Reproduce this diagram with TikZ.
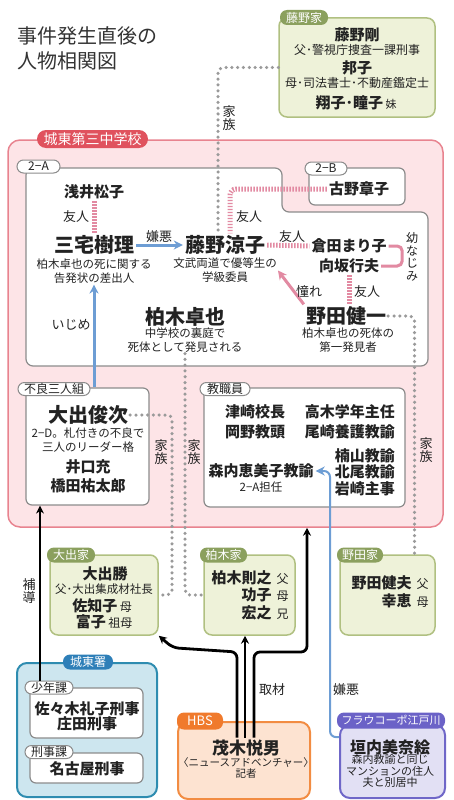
\documentclass[tikz,border=0pt]{standalone}
\usepackage{fontspec}
\setmainfont{Noto Sans CJK JP}
\usetikzlibrary{arrows.meta}
\definecolor{ink}{HTML}{222222}
\definecolor{titlegray}{HTML}{333333}
\definecolor{schoolfill}{HTML}{FDE4E7}
\definecolor{schoolline}{HTML}{E8838F}
\definecolor{schoolred}{HTML}{E0525E}
\definecolor{grline}{HTML}{8C8C8C}
\definecolor{famfill}{HTML}{EEF2D9}
\definecolor{famline}{HTML}{B0C081}
\definecolor{famgreen}{HTML}{8BA05E}
\definecolor{joshofill}{HTML}{CDE6EF}
\definecolor{josholine}{HTML}{2E8CB0}
\definecolor{joshoblue}{HTML}{2E7FB8}
\definecolor{hbsfill}{HTML}{FDE3D1}
\definecolor{hbsline}{HTML}{F28C42}
\definecolor{hbsorange}{HTML}{F07A2C}
\definecolor{fraufill}{HTML}{E2E0F4}
\definecolor{frauline}{HTML}{6F67C8}
\definecolor{frauviolet}{HTML}{6B62C7}
\definecolor{pinkline}{HTML}{E28AA2}
\definecolor{blueline}{HTML}{6D9DD4}
\definecolor{dotgray}{HTML}{9A9A9A}

\begin{document}
\begin{tikzpicture}[x=1pt,y=-1pt,text=ink,
    big/.style={font=\fontsize{20}{22}\selectfont\bfseries,inner sep=2pt},
    mid/.style={font=\fontsize{15}{16}\selectfont\bfseries,inner sep=2pt},
    note/.style={font=\fontsize{11.5}{14}\selectfont,align=center,inner sep=1pt},
    rel/.style={font=\fontsize{13}{13}\selectfont,align=center,inner sep=0pt},
    grbox/.style={draw=grline,fill=white,line width=1.2pt,rounded corners=6pt,inner sep=0pt},
    grtab/.style={draw=grline,fill=white,line width=1pt,rounded corners=6.5pt,inner xsep=3pt,inner ysep=0.5pt,minimum height=13pt,font=\fontsize{12}{12}\selectfont},
    fambox/.style={draw=famline,fill=famfill,line width=1.5pt,rounded corners=8pt,inner sep=0pt},
    coltab/.style={fill=#1,text=white,rounded corners=7pt,inner xsep=3pt,inner ysep=0.5pt,font=\fontsize{12}{12}\selectfont},
    famtab/.style={coltab=famgreen,minimum height=15pt},
    friend/.style={draw=pinkline,line width=5pt,dash pattern=on 1.4pt off 1.6pt,rounded corners=6pt},
    kin/.style={draw=dotgray,line width=3.5pt,line cap=round,dash pattern=on 0pt off 5.8pt,rounded corners=5pt},
    hate/.style={draw=blueline,line width=3pt,-{Stealth[length=9pt,width=9pt]}},
    news/.style={draw=black,line width=2.8pt,rounded corners=6pt,-{Stealth[length=8pt,width=8pt]}}]
\useasboundingbox (0,0) rectangle (453,800);

\node[font=\fontsize{20}{25}\selectfont,align=left,anchor=west,text=titlegray,inner sep=0pt] (title) at (17,48) {事件発生直後の\\人物相関図};

\node[fambox,minimum width=156pt,minimum height=99pt] (fujinoke) at (357,67.5) {};
\node[famtab,minimum width=48pt] (fujinoketab) at (304,17.5) {藤野家};
\node[mid] (tsuyoshi) at (357,35) {藤野剛};
\node[note,font=\fontsize{12}{14}\selectfont] (tsuyoshinote) at (357,50) {父･警視庁捜査一課刑事};
\node[mid] (kuniko) at (357,68) {邦子};
\node[note,font=\fontsize{12}{14}\selectfont] (kunikonote) at (357,83) {母･司法書士･不動産鑑定士};
\node[mid] (sisters) at (356,103) {翔子･瞳子\,{\mdseries\fontsize{11}{11}\selectfont 妹}};

\node[draw=schoolline,fill=schoolfill,line width=1.5pt,rounded corners=12pt,inner sep=0pt,minimum width=435pt,minimum height=387pt] (school) at (225.5,333.5) {};
\node[coltab=schoolred,minimum width=111pt,minimum height=18pt,rounded corners=9pt,font=\fontsize{14}{14}\selectfont] (schooltab) at (92.5,139) {城東第三中学校};
\draw[draw=grline,line width=1.2pt,fill=white,rounded corners=7pt] (120,168) -- (282,168) -- (282,212) -- (428,212) -- (428,366) -- (26,366) -- (26,168) -- cycle;
\node[grtab,minimum width=43pt] (classAtab) at (38.5,166.5) {2−A};
\node[grbox,minimum width=96pt,minimum height=37pt] (classB) at (357,186.5) {};
\node[grtab,minimum width=42pt] (classBtab) at (326,168.5) {2−B};
\node[grbox,minimum width=123pt,minimum height=117pt] (furyo) at (87.5,446.5) {};
\node[grtab,minimum width=72pt] (furyotab) at (54,389) {不良三人組};
\node[grbox,minimum width=201pt,minimum height=119pt] (staff) at (304.5,447.5) {};
\node[grtab,minimum width=50pt] (stafftab) at (225,389) {教職員};

\node[mid] (furuno) at (359,189) {古野章子};
\node[mid] (asai) at (94,192) {浅井松子};
\node[big] (miyake) at (94,245) {三宅樹理};
\node[note] (miyakenote) at (94,271) {柏木卓也の死に関する\\告発状の差出人};
\node[big] (ryoko) at (225,245) {藤野涼子};
\node[note] (ryokonote) at (225,270.5) {文武両道で優等生の\\学級委員};
\node[mid] (kurata) at (349,246) {倉田まり子};
\node[mid] (sakisaka) at (349,266) {向坂行夫};
\node[big] (noda) at (346,316) {野田健一};
\node[note] (nodanote) at (348,340) {柏木卓也の死体の\\第一発見者};
\node[big] (kashiwagi) at (185,317) {柏木卓也};
\node[note] (kashiwaginote) at (185,340) {中学校の裏庭で\\死体として発見される};

\node[big] (ode) at (88,415) {大出俊次};
\node[note] (odenote) at (88,440.5) {2−D。札付きの不良で\\三人のリーダー格};
\node[mid] (iguchi) at (88,467) {井口充};
\node[mid] (hashida) at (88,486) {橋田祐太郎};

\node[mid] (tsuzaki) at (255,412) {津崎校長};
\node[mid] (okano) at (255,432) {岡野教頭};
\node[mid,anchor=east] (takagi) at (397,412) {高木学年主任};
\node[mid,anchor=east] (ozaki) at (397,432) {尾崎養護教諭};
\node[mid,anchor=east] (kusuyama) at (397,456) {楠山教諭};
\node[mid,anchor=east] (kitao) at (397,472) {北尾教諭};
\node[mid,anchor=east] (iwasaki) at (397,489) {岩崎主事};
\node[mid] (moriuchi) at (261,471) {森内恵美子教諭};
\node[note] (moriuchinote) at (261,487) {2−A担任};

\node[fambox,minimum width=108pt,minimum height=80pt] (odeke) at (104,595) {};
\node[famtab,minimum width=48pt] (odeketab) at (71,555) {大出家};
\node[mid] (masaru) at (105,574) {大出勝};
\node[note] (masarunote) at (104,589) {父･大出集成材社長};
\node[mid] (sachiko) at (102,606) {佐知子\,{\mdseries\fontsize{12}{12}\selectfont 母}};
\node[mid] (tomiko) at (104,622) {富子\,{\mdseries\fontsize{12}{12}\selectfont 祖母}};

\node[fambox,minimum width=91pt,minimum height=80pt] (kashiwagike) at (249.5,595) {};
\node[famtab,minimum width=47pt] (kashiwagiketab) at (223.5,555) {柏木家};
\node[inner sep=0pt,font=\fontsize{15}{16}\selectfont] (kashiwagifam) at (250,597) {\begin{tabular}{@{}r@{\hspace{5pt}}l@{}}
  \textbf{柏木則之} & {\fontsize{12}{12}\selectfont 父}\\
  \textbf{功子} & {\fontsize{12}{12}\selectfont 母}\\
  \textbf{宏之} & {\fontsize{12}{12}\selectfont 兄}
\end{tabular}};

\node[fambox,minimum width=95pt,minimum height=80pt] (nodake) at (387.5,595) {};
\node[famtab,minimum width=46pt] (nodaketab) at (360,555) {野田家};
\node[inner sep=0pt,font=\fontsize{15}{18}\selectfont] (nodafam) at (390,594) {\begin{tabular}{@{}r@{\hspace{5pt}}l@{}}
  \textbf{野田健夫} & {\fontsize{12}{12}\selectfont 父}\\
  \textbf{幸恵} & {\fontsize{12}{12}\selectfont 母}
\end{tabular}};

\node[draw=josholine,fill=joshofill,line width=2pt,rounded corners=10pt,inner sep=0pt,minimum width=140pt,minimum height=134pt] (josho) at (87,730) {};
\node[coltab=joshoblue,minimum width=50pt,minimum height=15pt] (joshotab) at (88,662) {城東署};
\node[grbox,minimum width=113pt,minimum height=50pt] (shonenka) at (86.5,713) {};
\node[grtab,minimum width=48pt] (shonentab) at (49,687.5) {少年課};
\node[mid] (sasaki) at (87,709) {佐々木礼子刑事};
\node[mid] (shoda) at (87,724) {庄田刑事};
\node[grbox,minimum width=113pt,minimum height=30pt] (keijika) at (86.5,768) {};
\node[grtab,minimum width=48pt] (keijitab) at (49,752) {刑事課};
\node[mid] (nagoya) at (87,769) {名古屋刑事};

\node[draw=hbsline,fill=hbsfill,line width=2pt,rounded corners=10pt,inner sep=0pt,minimum width=132pt,minimum height=77pt] (hbs) at (244,760.5) {};
\node[coltab=hbsorange,minimum width=46pt,minimum height=17pt,font=\fontsize{13}{13}\selectfont] (hbstab) at (200,721) {HBS};
\node[big,font=\fontsize{17}{18}\selectfont\bfseries] (mogi) at (246,748) {茂木悦男};
\node[note,font=\fontsize{10.5}{11}\selectfont] (moginote) at (246,768) {〈ニュースアドベンチャー〉\\記者};

\node[draw=frauline,fill=fraufill,line width=2pt,rounded corners=10pt,inner sep=0pt,minimum width=105pt,minimum height=73pt] (frau) at (392.5,761.5) {};
\node[coltab=frauviolet,minimum width=108pt,minimum height=16pt,font=\fontsize{11}{11}\selectfont] (frautab) at (391,720.5) {フラウコーポ江戸川};
\node[big,font=\fontsize{16}{18}\selectfont\bfseries] (kakiuchi) at (390,747) {垣内美奈絵};
\node[note,font=\fontsize{11}{11.5}\selectfont] (kakiuchinote) at (390,771) {森内教諭と同じ\\マンションの住人\\夫と別居中};

\coordinate (odeturn) at (172,0);
\coordinate (hodo) at (40,0);
\coordinate (hbsl) at (237,652);
\coordinate (hbsm) at (245,0);
\coordinate (hbsr) at (254,652);
\coordinate (kzturn) at (307,0);
\coordinate (keno) at (330,0);

\draw[kin] (fujinoke.west) -| ([xshift=-7pt]ryoko.north);
\draw[kin] (noda.east) -| ([xshift=27pt]nodake.north);
\draw[kin] (kashiwaginote.south) |- (kashiwagike.west);
\draw[kin] (ode.east) -| (odeturn |- odeke.east) -- (odeke.east);

\draw[friend] (furuno.west) -| ([xshift=5pt]ryoko.north);
\draw[friend] (asai.south) -- (miyake.north);
\draw[friend] (ryoko.east) -- (kurata.west);
\draw[friend] (sakisaka.south) -- (sakisaka.south |- noda.north);
\draw[draw=pinkline,line width=3pt,rounded corners=5pt] (kurata.east) -| ([xshift=21pt]sakisaka.east) -- (sakisaka.east);
\draw[draw=pinkline,line width=3pt,-{Stealth[length=9pt,width=9pt]}] (noda.north west) -- (ryokonote.east);

\draw[hate] (miyake.east) -- (ryoko.west);
\draw[hate] (miyakenote.south |- furyo.north) -- (miyakenote.south);
\draw[hate,line width=2pt,rounded corners=6pt] (frau.west |- kakiuchi.north) -| (keno |- moriuchi) -- (moriuchi.east);

\draw[news] (shonentab.north -| hodo) -- (furyo.south -| hodo);
\draw[news] (mogi.north -| hbsl) -- (hbsl) -- ([xshift=14pt,yshift=-12pt]odeke.south east) -- (odeke.south east);
\draw[news] (mogi.north -| hbsm) -- (kashiwagike.south -| hbsm);
\draw[news] (mogi.north -| hbsr) -- (hbsr) -| (school.south -| kzturn);

\node[rel] (kazoku1) at (229,118) {家\\族};
\node[rel] (kazoku2) at (161,452) {家\\族};
\node[rel] (kazoku3) at (194,452) {家\\族};
\node[rel] (kazoku4) at (426,450) {家\\族};
\node[rel] (yujin1) at (76,217) {友人};
\node[rel] (yujin2) at (249,217) {友人};
\node[rel] (yujin3) at (292,237) {友人};
\node[rel] (yujin4) at (367,292) {友人};
\node[rel] (keno1) at (159,237) {嫌悪};
\node[rel] (akogare) at (309,292) {憧れ};
\node[rel] (ijime) at (71,325) {いじめ};
\node[rel,font=\fontsize{12}{12.5}\selectfont] (osana) at (412,257) {幼\\な\\じ\\み};
\node[rel] (hodolabel) at (29,591) {補\\導};
\node[rel] (shuzai) at (272,690) {取材};
\node[rel] (keno2) at (346,690) {嫌悪};
\end{tikzpicture}
\end{document}
